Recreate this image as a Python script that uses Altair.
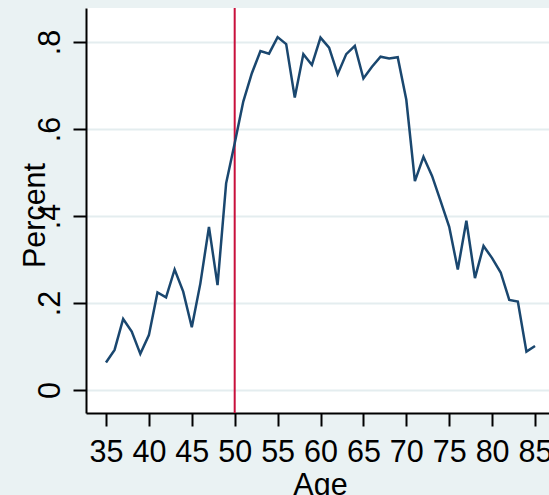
import altair as alt
import pandas as pd

# Share of respondents (as a proportion) by single year of age
ages = list(range(35, 86))
percent = [
    0.063, 0.092, 0.163, 0.134, 0.083, 0.126, 0.224, 0.213, 0.277, 0.226,
    0.144, 0.245, 0.375, 0.241, 0.475, 0.567, 0.663, 0.728, 0.779, 0.773,
    0.811, 0.795, 0.672, 0.772, 0.747, 0.810, 0.787, 0.726, 0.772, 0.791,
    0.716, 0.743, 0.766, 0.762, 0.765, 0.667, 0.480, 0.536, 0.492, 0.434,
    0.375, 0.277, 0.389, 0.257, 0.331, 0.303, 0.270, 0.207, 0.203, 0.088,
    0.101,
]
cutoff_age = [50]
x_ticks = [35, 40, 45, 50, 55, 60, 65, 70, 75, 80, 85]
y_ticks = [0, 0.2, 0.4, 0.6, 0.8]

df = pd.DataFrame({"Age": ages, "Percent": percent})
cut = pd.DataFrame({"Age": cutoff_age})

FONT = "Liberation Sans"
NAVY = "#1A476F"
BG = "#EAF2F3"
FS = 30.5

x_scale = alt.Scale(domain=[32.67, 86.63], nice=False, zero=False)
y_scale = alt.Scale(domain=[-0.053, 0.878], nice=False, zero=False)

x_axis = alt.Axis(
    values=x_ticks, title="Age", grid=False,
    labelFontSize=FS, labelFont=FONT, labelColor="black", labelPadding=11,
    tickSize=13, tickWidth=2, tickColor="black",
    domainColor="black", domainWidth=2,
    titleFontSize=FS, titleFont=FONT, titleFontWeight="normal", titleColor="black",
    titleX=234, titleY=81, titleAlign="center", titleBaseline="alphabetic",
    labelFlush=False,
)
y_axis = alt.Axis(
    values=y_ticks, title="Percent",
    labelExpr="datum.value == 0 ? '0' : replace(format(datum.value, '.1f'), '0.', '.')",
    labelAngle=270, labelAlign="center", labelBaseline="alphabetic",
    labelFontSize=FS, labelFont=FONT, labelColor="black", labelPadding=14,
    tickSize=13, tickWidth=2, tickColor="black",
    domainColor="black", domainWidth=2,
    grid=True, gridColor="#E4EDEF", gridWidth=2,
    titleFontSize=FS, titleFont=FONT, titleFontWeight="normal", titleColor="black",
    titleAngle=270, titleX=-42, titleY=207, titleAlign="center", titleBaseline="alphabetic",
    labelFlush=False,
)

line = alt.Chart(df).mark_line(color=NAVY, strokeWidth=2.5, clip=True).encode(
    x=alt.X("Age:Q", scale=x_scale, axis=x_axis),
    y=alt.Y("Percent:Q", scale=y_scale, axis=y_axis),
)

rule = alt.Chart(cut).mark_rule(color="#C8103C", strokeWidth=2).encode(
    x=alt.X("Age:Q", scale=x_scale),
)

chart = alt.layer(rule, line).properties(
    width=463, height=405,
    background=BG,
    padding={"left": 86, "top": 8, "right": 0, "bottom": 82},
    autosize=alt.AutoSizeParams(type="none"),
).configure_view(fill="white", stroke=None)

chart.save("out.html", embed_options={"renderer": "svg", "actions": False})
